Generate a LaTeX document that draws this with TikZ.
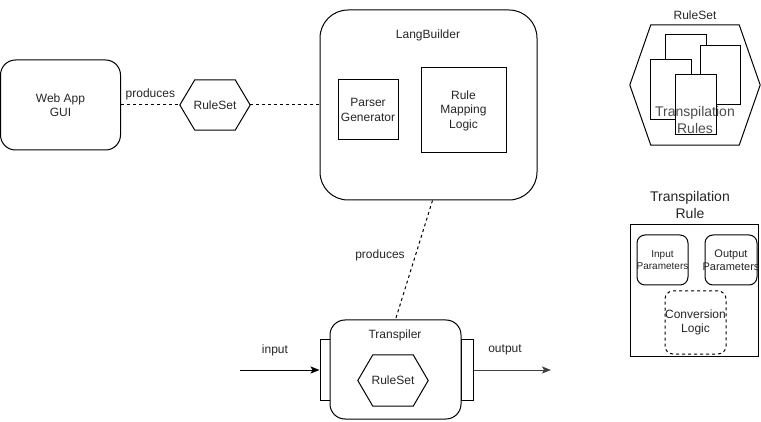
\documentclass[tikz,border=0pt]{standalone}
\usepackage{fontspec}
\setmainfont{Liberation Sans}
\usetikzlibrary{calc,arrows.meta}
\newcommand\drawhex[2]{%
  \draw[line width=1pt] (#1.west) -- ($(#1.north west)+(#2,0)$) -- ($(#1.north east)+(-#2,0)$) -- (#1.east) -- ($(#1.south east)+(-#2,0)$) -- ($(#1.south west)+(#2,0)$) -- cycle;}
\tikzset{
  base/.style={draw, line width=1pt, inner sep=0pt, align=center, text=black!85},
  rbox/.style={base, rounded corners=#1},
  rbox/.default=15pt,
  hexnode/.style={inner sep=0pt, align=center, text=black!85},
  txt/.style={inner sep=0pt, align=center, text=black!85},
  big/.style={font=\fontsize{14}{16.8}\selectfont},
  dline/.style={line width=1pt, dash pattern=on 3pt off 3pt},
  arr/.style={-{Stealth[length=9pt,width=7pt,inset=2pt]}, line width=1pt}
}
\begin{document}
\begin{tikzpicture}[x=1pt,y=-1pt,font=\fontsize{12}{14.4}\selectfont]
\useasboundingbox[fill=white] (0,0) rectangle (761,422);

% Web App GUI
\node[rbox=15pt, minimum width=120pt, minimum height=90pt] (web) at (60.5,105) {Web App\\GUI};

% RuleSet hexagon (top left)
\node[hexnode, minimum width=70pt, minimum height=50pt] (rs1) at (215,105) {RuleSet};
\drawhex{rs1}{15}

% LangBuilder
\node[rbox=28pt, minimum width=217pt, minimum height=190pt] (lb) at (428.5,105) {};
\node[txt] (lbt) at (428,35) {LangBuilder};
\node[base, minimum width=60pt, minimum height=60pt] (pg) at (368,110) {Parser\\Generator};
\node[base, minimum width=85pt, minimum height=85pt] (rml) at (463.5,110.5) {Rule\\Mapping\\Logic};

% dashed connectors top
\draw[dline] (web.east) -- node[txt, above=5pt] (p1) {produces} (rs1.west);
\draw[dline] (rs1.east) -- (lb.west);

% Transpiler
\node[base, minimum width=10pt, minimum height=60pt] (tl) at (325,370) {};
\node[base, minimum width=12pt, minimum height=60pt] (tr) at (467,370) {};
\node[rbox=15pt, fill=white, minimum width=131pt, minimum height=99pt] (tp) at (395.5,369.5) {};
\node[txt] (tpt) at (395,335) {Transpiler};
\node[hexnode, minimum width=70pt, minimum height=51pt] (rs2) at (393,380.5) {RuleSet};
\drawhex{rs2}{15}

\coordinate (lbs) at ($(lb.south)+(4,0)$);
\draw[dline] (lbs) -- (tp.north);
\node[txt] (p2) at (380,255) {produces};

% input / output
\coordinate (in0) at (240,370);
\coordinate (out1) at (551,370);
\draw[arr] (in0) -- (tl.west);
\node[txt] (inl) at (275,350) {input};
\draw[arr, black!75] (tr.east) -- (out1);
\node[txt] (outl) at (505,350) {output};

% RuleSet icon (right)
\node[txt] (rst) at (695,15) {RuleSet};
\node[inner sep=0pt, minimum width=130pt, minimum height=120pt] (rs3) at (695,85) {};
\drawhex{rs3}{21}
\node[base, fill=white, minimum width=41pt, minimum height=60pt] (d1) at (685.5,65) {};
\node[base, fill=white, minimum width=40pt, minimum height=59pt] (d2) at (720,75.5) {};
\node[base, fill=white, minimum width=41pt, minimum height=60pt] (d3) at (670.5,90) {};
\node[base, fill=white, minimum width=41pt, minimum height=60pt] (d4) at (695.5,105) {};
\node[txt, big, text=black!70] (trs) at (695,120) {Transpilation\\Rules};

% Transpilation Rule
\node[txt, big] (trt) at (690,205) {Transpilation\\Rule};
\node[base, minimum width=128pt, minimum height=131pt] (trb) at (694,290.5) {};
\node[rbox=8pt, minimum width=51pt, minimum height=50pt] (ip) at (662.5,260) {};
\node[txt, font=\fontsize{10}{12}\selectfont] (ipt) at (ip) {Input\\Parameters};
\node[rbox=8pt, minimum width=52pt, minimum height=50pt] (op) at (731,260) {};
\node[txt, font=\fontsize{11}{13.2}\selectfont] (opt) at (op) {Output\\Parameters};
\node[rbox=8pt, dline, minimum width=61pt, minimum height=63pt] (cl) at (695.5,322.5) {};
\node[txt] (clt) at (cl) {Conversion\\Logic};
\end{tikzpicture}
\end{document}
